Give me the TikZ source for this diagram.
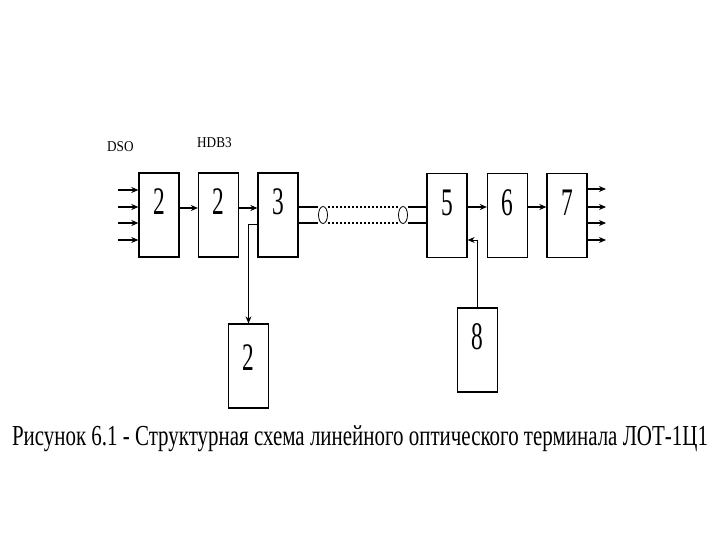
\documentclass[tikz,border=0pt]{standalone}
\usepackage{fontspec}
\setmainfont{Liberation Serif}
\newfontfamily\numfont[FakeStretch=0.6]{Liberation Serif}
\newfontfamily\lblfont[FakeStretch=0.88]{Liberation Serif}
\newfontfamily\capfont{Liberation Serif}
\usetikzlibrary{arrows.meta,shapes.geometric,calc}
\begin{document}
\begin{tikzpicture}[x=1pt,y=-1pt,
  blk/.style={draw,line width=1.3pt,minimum width=40pt,minimum height=84pt,inner sep=0pt},
  num/.style={font=\numfont\fontsize{39}{40}\selectfont,inner sep=0pt},
  lbl/.style={font=\lblfont\fontsize{15}{16}\selectfont,inner sep=0pt},
  arr/.style={line width=1.2pt,-{Stealth[length=7pt,width=6pt]}},
  tarr/.style={line width=0.9pt,-{Stealth[length=7pt,width=6pt]}},
  fib/.style={line width=1.2pt},
  fibd/.style={line width=1.4pt,dash pattern=on 2pt off 2pt},
  ell/.style={draw,ellipse,line width=0.8pt,minimum width=9pt,minimum height=17pt,inner sep=0pt}
]
\useasboundingbox (0,0) rectangle (720,540);
% main row boxes
\node[blk] (A) at (159,215) {};
\node[blk] (B) at (218.5,215) {};
\node[blk] (C) at (278,215) {};
\node[blk] (F) at (447,215.5) {};
\node[blk] (G) at (507.5,215.5) {};
\node[blk] (H) at (567,215.5) {};
\node[blk] (D) at (248.5,366) {};
\node[blk] (E) at (477.5,350) {};
% numbers
\node[num] (nA) at (159,202) {2};
\node[num] (nB) at (218.5,202) {2};
\node[num] (nC) at (278,202) {3};
\node[num] (nF) at (447,203) {5};
\node[num] (nG) at (507.5,203) {6};
\node[num] (nH) at (567,203) {7};
\node[num] (nD) at (248.5,358) {2};
\node[num] (nE) at (477.5,337) {8};
% top labels
\node[lbl,anchor=base west] (dso) at (107,152) {DSO};
\node[lbl,anchor=base west] (hdb) at (197,148) {HDB3};
% inputs
\foreach \y/\n in {190/1,207/2,223/3,240/4}{
  \coordinate (in\n) at (118,\y);
  \draw[arr] (in\n) -- (A.west |- in\n);
}
% outputs
\foreach \y/\n in {189/1,207/2,223/3,240/4}{
  \coordinate (out\n) at (606,\y);
  \draw[arr] (H.east |- out\n) -- (out\n);
}
% chain arrows
\draw[arr] ([yshift=7pt]A.east) -- ([yshift=7pt]B.west);
\draw[arr] ([yshift=7pt]B.east) -- ([yshift=7pt]C.west);
\draw[arr] ([yshift=8.5pt]F.east) -- ([yshift=8.5pt]G.west);
\draw[arr] ([yshift=8.5pt]G.east) -- ([yshift=8.5pt]H.west);
% fibre
\node[ell] (e1) at (323,215) {};
\node[ell] (e2) at (403,215) {};
\draw[fib] ([yshift=8pt]C.east) -- (e1.west |- 0,207);
\draw[fib] ([yshift=-8pt]C.east) -- (e1.west |- 0,223);
\draw[fibd] (e1.east |- 0,207) -- (e2.west |- 0,207);
\draw[fibd] (e1.east |- 0,223) -- (e2.west |- 0,223);
\draw[fib] (e2.east |- 0,207) -- (F.west |- 0,207);
\draw[fib] (e2.east |- 0,223) -- (F.west |- 0,223);
% branch to lower 2
\draw[tarr] ([yshift=-9pt]C.west) -| (D.north);
% from 8 to 5
\draw[tarr] (E.north) |- (F.east |- 0,240);
% caption
\node[anchor=base,inner sep=0pt] (cap) at (360,445) {\resizebox{696pt}{\height}{\capfont\fontsize{29}{32}\selectfont Рисунок 6.1 - Структурная схема линейного оптического терминала ЛОТ-1Ц1}};
\end{tikzpicture}
\end{document}
